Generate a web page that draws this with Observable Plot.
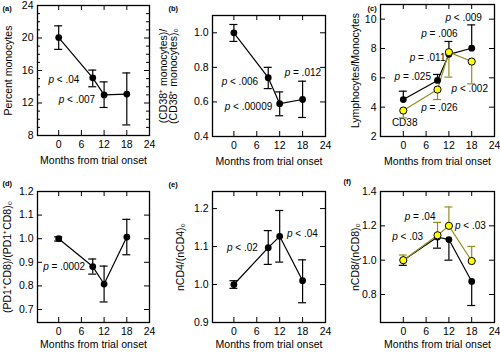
<!DOCTYPE html>
<html><head><meta charset="utf-8">
<script src="https://cdn.jsdelivr.net/npm/d3@7"></script>
<script src="https://cdn.jsdelivr.net/npm/@observablehq/plot@0.6"></script>
<style>
body{margin:0;background:#fff;}
#fig{position:relative;width:500px;height:352px;overflow:hidden;font-family:"Liberation Sans",Arial,sans-serif;}
#fig svg{position:absolute;overflow:visible;}
</style></head><body><div id="fig"></div>
<script>
// ---- shared ----
const months = [0, 9, 12, 18];
const xTicks = [0, 6, 12, 18, 24];
const xTickMarks = [0, 6, 12, 18];
const xTitle = "Months from trial onset";

// ---- (a) Percent monocytes ----
const aMean = [20.05, 15.1, 13.0, 13.1];
const aLow  = [18.6, 14.0, 11.45, 9.3];
const aHigh = [21.5, 16.05, 14.6, 15.7];
const aTicks = [8, 12, 16, 20, 24];
const aMinor = [9, 10, 11, 13, 14, 15, 17, 18, 19, 21, 22, 23];
const aNotes = [{x: -2.7, y: 14.8, t: "p < .04"}, {x: 0, y: 12.4, t: "p < .007"}];

// ---- (b) CD38+ monocytes ratio ----
const bMean = [1.0, 0.74, 0.59, 0.614];
const bLow  = [0.95, 0.677, 0.52, 0.51];
const bHigh = [1.048, 0.80, 0.658, 0.72];
const bTicks = [0.4, 0.6, 0.8, 1.0];
const bNotes = [{x: -3.2, y: 0.718, t: "p < .006"}, {x: -2.4, y: 0.573, t: "p < .00009"}, {x: 13.3, y: 0.77, t: "p = .012"}];

// ---- (c) Lymphocytes/Monocytes ----
const cAllMean = [4.52, 5.82, 7.6, 8.02];
const cAllHigh = [5.09, 6.23, 8.48, 9.61];
const cCD38Mean = [3.77, 5.2, 7.75, 7.11];
const cCD38Low  = [3.27, 4.52, 6.05, 5.59];
const cTicks = [2, 4, 6, 8, 10];
const cNotes = [
  {x: 11.1, y: 10.1, t: "p < .009"}, {x: 4.7, y: 8.98, t: "p = .006"},
  {x: 1.7, y: 7.39, t: "p = .011"}, {x: -2.3, y: 6.05, t: "p = .025"},
  {x: 4.7, y: 3.95, t: "p = .026"}, {x: 12.7, y: 5.27, t: "p < .002"},
  {x: -3.0, y: 2.93, t: "CD38"}
];

// ---- (d) PD1+CD8 ----
const dMean = [1.0, 0.882, 0.808, 1.007];
const dLow  = [0.99, 0.85, 0.732, 0.932];
const dHigh = [1.008, 0.914, 0.884, 1.082];
const dTicks = [0.7, 0.8, 0.9, 1.0, 1.1, 1.2];
const dNotes = [{x: -4.1, y: 0.879, t: "p = .0002"}];

// ---- (e) nCD4 ----
const eMean = [1.0, 1.097, 1.127, 1.01];
const eLow  = [0.99, 1.053, 1.059, 0.952];
const eHigh = [1.01, 1.142, 1.195, 1.065];
const eTicks = [0.9, 1.0, 1.1, 1.2];
const eNotes = [{x: -1.8, y: 1.096, t: "p < .02"}, {x: 13.9, y: 1.134, t: "p < .04"}];

// ---- (f) nCD8 ----
const fAllMean = [1.0, 1.135, 1.12, 0.876];
const fAllLow  = [0.97, 1.07, 1.0, 0.736];
const fCD38Mean = [1.0, 1.145, 1.2, 0.995];
const fCD38High = [1.03, 1.22, 1.31, 1.08];
const fTicks = [0.8, 1.0, 1.2, 1.4];
const fNotes = [{x: 0.35, y: 1.25, t: "p = .04"}, {x: -2.9, y: 1.134, t: "p < .03"}, {x: 13.6, y: 1.2, t: "p < .03"}];

const OLIVE = "#8f8f22", YELLOW = "#ffff00";
const fig = document.getElementById("fig");

function panel(cfg) {
  const [mt, mr, mb, ml] = cfg.margin;
  const fw = cfg.width - ml - mr, fh = cfg.height - mt - mb;
  const cap = 4 / (fw / (cfg.xDomain[1] - cfg.xDomain[0]));
  const marks = [];
  marks.push(Plot.text(cfg.notes, {x: "x", y: "y", text: "t", textAnchor: "start", fontSize: 10}));
  marks.push(Plot.tickX(xTickMarks, {x: d => d, insetTop: fh - 5, strokeWidth: 1}));
  marks.push(Plot.tickX(xTickMarks, {x: d => d, insetBottom: fh - 5, strokeWidth: 1}));
  marks.push(Plot.tickY(cfg.yTicks, {y: d => d, insetRight: fw - 5, strokeWidth: 1}));
  marks.push(Plot.tickY(cfg.yTicks, {y: d => d, insetLeft: fw - 5, strokeWidth: 1}));
  if (cfg.yMinor) {
    marks.push(Plot.tickY(cfg.yMinor, {y: d => d, insetRight: fw - 3, strokeWidth: 1}));
    marks.push(Plot.tickY(cfg.yMinor, {y: d => d, insetLeft: fw - 3, strokeWidth: 1}));
  }
  marks.push(Plot.axisX({ticks: xTicks, tickSize: 0, tickPadding: 5, label: null}));
  marks.push(Plot.axisY({ticks: cfg.yTicks, tickSize: 0, tickPadding: 4, tickFormat: cfg.yFmt, label: null}));
  for (const s of cfg.series) {
    const rows = months.map((m, i) => ({
      x: m, y: s.mean[i],
      lo: s.low ? s.low[i] : s.mean[i],
      hi: s.high ? s.high[i] : s.mean[i]
    }));
    marks.push(Plot.ruleX(rows, {x: "x", y1: "lo", y2: "hi", stroke: s.stroke, strokeWidth: 1.2}));
    if (s.low) marks.push(Plot.ruleY(rows, {y: "lo", x1: d => d.x - cap, x2: d => d.x + cap, stroke: s.stroke, strokeWidth: 1.2}));
    if (s.high) marks.push(Plot.ruleY(rows, {y: "hi", x1: d => d.x - cap, x2: d => d.x + cap, stroke: s.stroke, strokeWidth: 1.2}));
    marks.push(Plot.line(rows, {x: "x", y: "y", stroke: s.stroke, strokeWidth: 1.2}));
  }
  for (const s of cfg.series) {
    const rows = months.map((m, i) => ({x: m, y: s.mean[i]}));
    marks.push(Plot.dot(rows, {x: "x", y: "y", r: s.fill === "black" ? 3.4 : 3.6, fill: s.fill, stroke: "black", strokeWidth: s.fill === "black" ? 0 : 1}));
  }
  marks.push(Plot.frame({stroke: "black", strokeWidth: 1.3}));
  marks.push(Plot.text([cfg.ylabel], {text: d => d, frameAnchor: "left", textAnchor: "middle", lineAnchor: "middle", rotate: -90, dx: -cfg.ylabelDx, fontSize: 10.5, lineHeight: 1.0}));
  marks.push(Plot.text([xTitle], {text: d => d, frameAnchor: "bottom", textAnchor: "middle", dy: cfg.xTitleDy, fontSize: 10.5}));
  marks.push(Plot.text([cfg.tag], {text: d => d, frameAnchor: "top-left", textAnchor: "start", dx: cfg.tagDx, dy: cfg.tagDy, fontSize: 7.5, fontWeight: "bold"}));
  const svg = Plot.plot({
    width: cfg.width, height: cfg.height,
    marginTop: mt, marginRight: mr, marginBottom: mb, marginLeft: ml,
    x: {domain: cfg.xDomain},
    y: {domain: cfg.yDomain},
    style: {fontFamily: "Liberation Sans, Arial, sans-serif", fontSize: "10.5px", background: "transparent", overflow: "visible", color: "black"},
    marks
  });
  svg.style.left = cfg.left + "px";
  svg.style.top = cfg.top + "px";
  d3.select(svg).selectAll("text").each(function() {
    const t = this.textContent;
    if (/^p [<=] /.test(t) && this.children.length === 0) {
      this.textContent = "";
      d3.select(this).append("tspan").attr("font-style", "italic").text("p");
      d3.select(this).append("tspan").text(t.slice(1));
    }
  });
  fig.appendChild(svg);
}

const f1 = d3.format(".1f");
panel({left: 0, top: 0, width: 160, height: 176, margin: [5, 11, 41, 37], xDomain: [-5.6, 24], yDomain: [8, 24],
  yTicks: aTicks, yMinor: aMinor, yFmt: d3.format("d"), notes: aNotes,
  series: [{mean: aMean, low: aLow, high: aHigh, stroke: "black", fill: "black"}],
  ylabel: "Percent monocytes", ylabelDx: 29, xTitleDy: 28, tag: "(a)", tagDx: -35, tagDy: 0});
panel({left: 150, top: 0, width: 180, height: 176, margin: [15, 5, 40, 62], xDomain: [-5.6, 24], yDomain: [0.4, 1.1],
  yTicks: bTicks, yFmt: f1, notes: bNotes,
  series: [{mean: bMean, low: bLow, high: bHigh, stroke: "black", fill: "black"}],
  ylabel: "(CD38\u207A monocytes)/\n(CD38\u207A monocytes)\u2080", ylabelDx: 44, xTitleDy: 28, tag: "(b)", tagDx: -44, tagDy: -10});
panel({left: 330, top: 0, width: 170, height: 176, margin: [4, 6, 40, 50], xDomain: [-6, 24], yDomain: [2, 11],
  yTicks: cTicks, yFmt: d3.format("d"), notes: cNotes,
  series: [
    {mean: cAllMean, high: cAllHigh, stroke: "black", fill: "black"},
    {mean: cCD38Mean, low: cCD38Low, stroke: OLIVE, fill: YELLOW}
  ],
  ylabel: "Lymphocytes/Monocytes", ylabelDx: 25, xTitleDy: 28, tag: "(c)", tagDx: -13, tagDy: 1});
panel({left: 0, top: 176, width: 160, height: 176, margin: [15, 11, 30, 37], xDomain: [-5.6, 24], yDomain: [0.645, 1.2],
  yTicks: dTicks, yFmt: f1, notes: dNotes,
  series: [{mean: dMean, low: dLow, high: dHigh, stroke: "black", fill: "black"}],
  ylabel: "(PD1\u207ACD8)/(PD1\u207ACD8)\u2080", ylabelDx: 30, xTitleDy: 25, tag: "(d)", tagDx: -35, tagDy: -11});
panel({left: 150, top: 176, width: 180, height: 176, margin: [15, 5, 30, 62], xDomain: [-5.6, 24], yDomain: [0.9, 1.245],
  yTicks: eTicks, yFmt: f1, notes: eNotes,
  series: [{mean: eMean, low: eLow, high: eHigh, stroke: "black", fill: "black"}],
  ylabel: "nCD4/(nCD4)\u2080", ylabelDx: 32, xTitleDy: 25, tag: "(e)", tagDx: -44, tagDy: -10});
panel({left: 330, top: 176, width: 170, height: 176, margin: [15, 6, 30, 50], xDomain: [-6, 24], yDomain: [0.637, 1.4],
  yTicks: fTicks, yFmt: f1, notes: fNotes,
  series: [
    {mean: fAllMean, low: fAllLow, stroke: "black", fill: "black"},
    {mean: fCD38Mean, high: fCD38High, stroke: OLIVE, fill: YELLOW}
  ],
  ylabel: "nCD8/(nCD8)\u2080", ylabelDx: 25, xTitleDy: 25, tag: "(f)", tagDx: -37, tagDy: -13});
</script></body></html>
